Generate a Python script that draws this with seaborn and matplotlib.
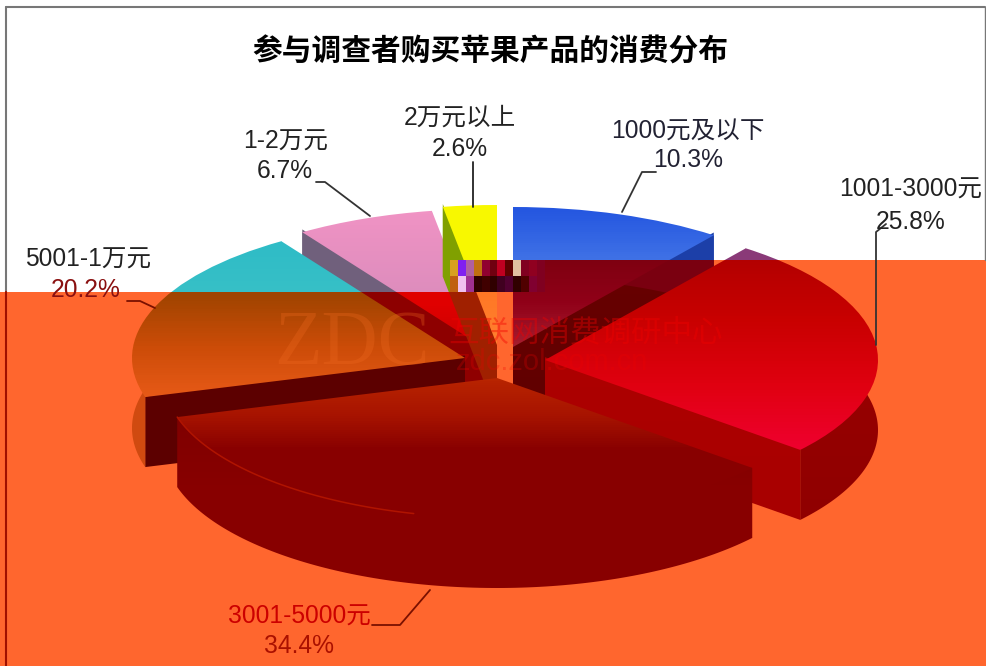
import numpy as np
import matplotlib
matplotlib.use("Agg")
import matplotlib.pyplot as plt
from matplotlib.colors import to_rgb
from matplotlib.patches import Polygon, Rectangle
import seaborn as sns

# ---- data ----
categories = ["1000元及以下", "1001-3000元", "3001-5000元", "5001-1万元", "1-2万元", "2万元以上"]
shares = [10.3, 25.8, 34.4, 20.2, 6.7, 2.6]
title = "参与调查者购买苹果产品的消费分布"

# ---- layout / style ----
W, H = 987, 666
CX, CY, RX, RY, DEPTH = 500, 350, 333, 140, 70
apex = [(513, 347), (545, 360), (497, 378), (465, 358), (486, 349), (497, 345)]
draw_order = [4, 5, 0, 3, 1, 2]
# colours per slice: (upper-region stops, orange-region stops)
top_col = [
    (["#2456e0", "#4a7ce8", "#5a88ee"], ["#7d0010", "#7d0010", "#900018", "#a82030"]),
    (["#8a3a78", "#8a3a78"], ["#b00000", "#c80000", "#e00010", "#f00030"]),
    (["#a01000", "#a01000"], ["#b82400", "#a81400", "#880000", "#880000", "#880000"]),
    (["#2fbcc6", "#48c8c8"], ["#a04400", "#a04400", "#cc4c08", "#e85a18"]),
    (["#f093c4", "#d088b8"], ["#e00000", "#e00000", "#e00000", "#c80000"]),
    (["#f8f800", "#f8f800"], ["#ff6a14", "#ff8030"]),
]
rim_col = [
    (["#1c3fa8", "#1c3fa8"], ["#7a0010", "#7a0010"]),
    (["#8a3a78", "#8a3a78"], ["#a00000", "#960000", "#900000"]),
    (["#700000", "#700000"], ["#7a0000", "#880000", "#880000"]),
    (["#2fbcc6", "#2fbcc6"], ["#d04a10", "#d04a10"]),
    (["#70607c", "#70607c"], ["#900000", "#900000"]),
    (["#80a000", "#80a000"], ["#a02000", "#a02000"]),
]
wall_col = [
    (["#1c3fa8", "#1c3fa8"], ["#6a0000", "#600000"]),
    (["#8a3a78", "#8a3a78"], ["#b00000", "#a80000"]),
    (["#700000", "#700000"], ["#700000", "#700000"]),
    (["#2fbcc6", "#2fbcc6"], ["#5c0000", "#5c0000"]),
    (["#70607c", "#70607c"], ["#8c0000", "#900000"]),
    (["#80a000", "#80a000"], ["#a02000", "#a02000"]),
]
ORANGE = "#ff662e"
label_pos = [(688, 132, 688, 160), (911, 190, 911, 222), (299, 617, 299, 646),
             (88, 260, 86, 290), (286, 142, 285, 171), (460, 118, 460, 149)]
label_col = [("#222233", "#222233"), ("#222222", "#222222"), ("#cc0000", "#aa1000"),
             ("#222222", "#8a1010"), ("#222222", "#222222"), ("#222222", "#222222")]
leaders = [
    ([622, 642, 656], [212, 172, 172], "#333333"),
    ([876, 876, 886], [345, 232, 224], "#333333"),
    ([473, 473], [207, 162], "#222222"),
    ([370, 325, 316], [216, 182, 182], "#333333"),
    ([155, 140, 127], [308, 301, 301], "#7a1000"),
    ([430, 400, 372], [590, 625, 625], "#7a1000"),
]
noise = [
    ["#d8a020", "#8020f0", "#b060a0", "#c07010", "#900030", "#700010", "#c00020", "#600000", "#e0c0a0", "#800020", "#900020", "#800020"],
    ["#c06010", "#f0c0f0", "#a03090", "#300000", "#400000", "#300000", "#400020", "#500030", "#300000", "#500000", "#800030", "#800020"],
]

FONT = ["Liberation Sans", "Noto Sans CJK SC"]
sns.set_theme(style="white")
plt.rcParams["font.family"] = FONT

fig = plt.figure(figsize=(W / 100, H / 100), dpi=100, facecolor="white")
ax = fig.add_axes([0, 0, 1, 1])


def dx(x):
    return (np.asarray(x, float) - CX) / RX


def dy(y):
    return (CY - np.asarray(y, float)) / RY


wedges, _ = ax.pie(shares, startangle=90, counterclock=False, radius=1)
ax.set_aspect("auto")
extent = (dx(0), dx(W), dy(H), dy(0))

Y, X = np.mgrid[0:H, 0:W]
orange_mask = (Y >= 260) & ((X >= 450) | (Y >= 292))


def shade(stops, y0, y1):
    upper, lower = stops
    t = np.clip((Y - y0) / max(y1 - y0, 1), 0, 1)
    lut_u = np.array(sns.blend_palette(upper, 64))
    lut_l = np.array(sns.blend_palette(lower, 64))
    idx = (t * 63).astype(int)
    return np.where(orange_mask[..., None], lut_l[idx], lut_u[idx])


def paint(patch, stops, z, y0, y1):
    ax.add_patch(patch)
    patch.set_visible(False)
    im = ax.imshow(shade(stops, y0, y1), extent=extent, aspect="auto", zorder=z,
                   interpolation="nearest", origin="upper")
    im.set_clip_path(patch)


# background
ax.add_patch(Rectangle((dx(0), dy(H)), dx(W) - dx(0), dy(0) - dy(H), color="white", zorder=0))
bg = np.ones((H, W, 3))
bg[orange_mask] = to_rgb(ORANGE)
ax.imshow(bg, extent=extent, aspect="auto", zorder=0.5, interpolation="nearest", origin="upper")

d = DEPTH / RY
for rank, i in enumerate(draw_order):
    w = wedges[i]
    ax_, ay_ = apex[i]
    cx, cy = float(dx(ax_)), float(dy(ay_))
    w.set_center((cx, cy))
    w.set_visible(False)
    th1, th2 = w.theta1, w.theta2
    base = 10 + rank * 5
    angs = np.radians(np.linspace(th1, th2, 120))
    ptx, pty = cx + np.cos(angs), cy + np.sin(angs)
    inx, iny = cx + 0.97 * np.cos(angs), cy + 0.97 * np.sin(angs)
    inx[[0, -1]], iny[[0, -1]] = ptx[[0, -1]], pty[[0, -1]]
    ytop = float(CY - max(pty.max(), cy) * RY)
    ybot = float(CY - min(pty.min(), cy) * RY)
    yhi = ybot + DEPTH

    # radial faces that look towards the viewer
    for th in (th1, th2):
        a = np.radians(th)
        n = (-np.sin(a), np.cos(a)) if th == th2 else (np.sin(a), -np.cos(a))
        if n[1] < 0:
            ex, ey = cx + np.cos(a), cy + np.sin(a)
            lift = 0.02
            poly = Polygon([(cx, cy + lift), (ex, ey + lift), (ex, ey - d), (cx, cy - d)], closed=True)
            paint(poly, wall_col[i], base, ytop, yhi)
    # outer rim (its upper edge runs just inside the top surface, so no seam shows)
    rim = np.column_stack([np.r_[inx, ptx[::-1]], np.r_[iny, pty[::-1] - d]])
    paint(Polygon(rim, closed=True), rim_col[i], base + 1, ytop, yhi)
    # top surface
    im = ax.imshow(shade(top_col[i], ytop, ybot), extent=extent,
                   aspect="auto", zorder=base + 2, interpolation="nearest", origin="upper")
    im.set_clip_path(w)
    # thin highlight along the left front edge of the largest slice
    if i == 2:
        lit = np.degrees(angs) < th1 + 60
        ax.plot(ptx[lit], pty[lit], color="#b01400", lw=1.1, zorder=base + 3)

# corrupted strip in the middle of the picture
nrgb = np.array([[to_rgb(c) for c in row] for row in noise])
ax.imshow(nrgb, extent=(dx(450), dx(545), dy(292), dy(260)), aspect="auto", zorder=60,
          interpolation="nearest", origin="upper")

# watermark
ax.text(dx(352), dy(345), "ZDC", family="Liberation Serif", fontsize=56, color="#f06a20", alpha=0.3,
        ha="center", va="center", zorder=65)
ax.text(dx(586), dy(333), "互联网消费调研中心", fontsize=22, color="#f00000", alpha=0.4,
        ha="center", va="center", zorder=65)
ax.text(dx(648), dy(362), "zdc.zol.com.cn", fontsize=21, color="#f00000", alpha=0.25,
        ha="right", va="center", zorder=65)

# leaders
for xs, ys, c in leaders:
    ax.plot(dx(xs), dy(ys), color=c, lw=1.3, zorder=70)

# labels
for cat, val, (x1, y1, x2, y2), (c1, c2) in zip(categories, shares, label_pos, label_col):
    ax.text(dx(x1), dy(y1), cat, fontsize=17.7, color=c1, ha="center", va="center", zorder=72)
    ax.text(dx(x2), dy(y2), f"{val}%", fontsize=17.7, color=c2, ha="center", va="center", zorder=72)

ax.text(dx(490), dy(52), title, fontsize=21.4, fontweight="bold", color="black",
        ha="center", va="center", family="Noto Sans CJK SC", zorder=72)

# chart frame
ax.plot(dx([6, 6]), dy([7, 292]), color="#777777", lw=1.5, zorder=75)
ax.plot(dx([6, 6]), dy([292, 666]), color="#a01000", lw=1.5, zorder=75)
ax.plot(dx([6, 985]), dy([7, 7]), color="#777777", lw=1.5, zorder=75)
ax.plot(dx([985, 985]), dy([7, 260]), color="#777777", lw=1, zorder=75)

ax.set_xlim(dx(0), dx(W))
ax.set_ylim(dy(H), dy(0))
ax.axis("off")
sns.despine(ax=ax, left=True, bottom=True)
fig.savefig("out.png", dpi=100)
